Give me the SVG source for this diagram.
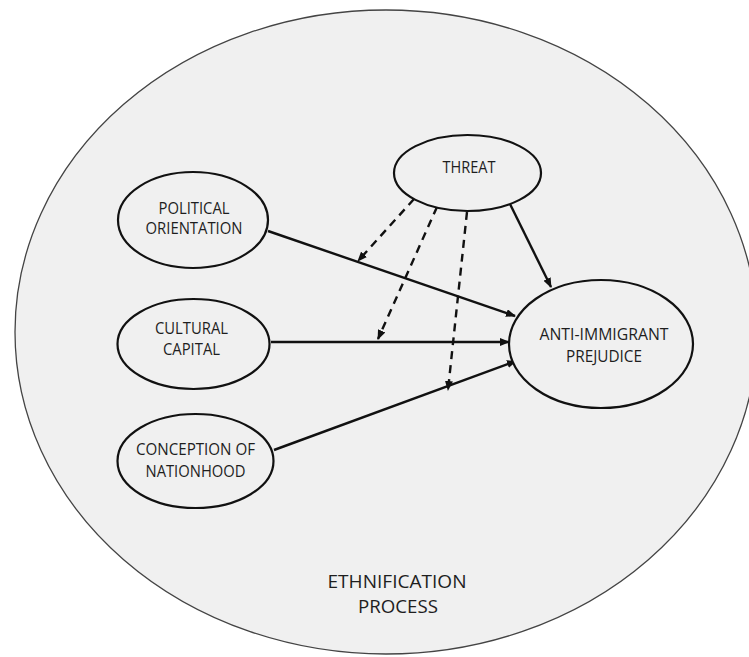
<svg xmlns="http://www.w3.org/2000/svg" width="749" height="657" viewBox="0 0 749 657">
<style>
.node ellipse{fill:#f0f0f0;stroke:#111;stroke-width:2.2}
.lbl{font-family:"Open Sans","Liberation Sans",sans-serif;font-size:16px;fill:#1e1e1e;text-anchor:middle}
.big{font-size:18.5px}
.edge{stroke:#111;stroke-width:2.4;fill:none;marker-end:url(#ah)}
.dash{stroke-dasharray:8,6}
</style>
<defs>
<marker id="ah" viewBox="0 0 10 8" refX="9" refY="4" markerWidth="10" markerHeight="8" markerUnits="userSpaceOnUse" orient="auto">
<path d="M0,0 L10,4 L0,8 z" fill="#111"/>
</marker>
</defs>
<rect width="749" height="657" fill="#ffffff"/>
<g id="ethnification">
<ellipse cx="386" cy="332" rx="371" ry="322" fill="#f0f0f0" stroke="#444" stroke-width="1.3"/>
<text class="lbl big" x="397" y="588" textLength="139" lengthAdjust="spacingAndGlyphs">ETHNIFICATION</text>
<text class="lbl big" x="398" y="613" textLength="80" lengthAdjust="spacingAndGlyphs">PROCESS</text>
</g>
<g id="connectors">
<line class="edge" x1="268" y1="231" x2="515" y2="316"/>
<line class="edge" x1="271" y1="342" x2="509" y2="342"/>
<line class="edge" x1="274" y1="450" x2="516" y2="361"/>
<line class="edge" x1="510" y1="204" x2="551" y2="287"/>
<line class="edge dash" x1="414" y1="199" x2="358" y2="261"/>
<line class="edge dash" x1="437" y1="207" x2="378" y2="339"/>
<line class="edge dash" x1="467" y1="212" x2="448" y2="390"/>
</g>
<g id="threat" class="node">
<ellipse cx="467.5" cy="173" rx="73.5" ry="38"/>
<text class="lbl" x="469" y="173" textLength="53" lengthAdjust="spacingAndGlyphs">THREAT</text>
</g>
<g id="political" class="node">
<ellipse cx="193" cy="220" rx="75" ry="48"/>
<text class="lbl" x="194" y="214" textLength="71" lengthAdjust="spacingAndGlyphs">POLITICAL</text>
<text class="lbl" x="194" y="234" textLength="97" lengthAdjust="spacingAndGlyphs">ORIENTATION</text>
</g>
<g id="cultural" class="node">
<ellipse cx="193.5" cy="344" rx="76" ry="45"/>
<text class="lbl" x="191.5" y="334" textLength="73" lengthAdjust="spacingAndGlyphs">CULTURAL</text>
<text class="lbl" x="191.5" y="355" textLength="57" lengthAdjust="spacingAndGlyphs">CAPITAL</text>
</g>
<g id="conception" class="node">
<ellipse cx="195.5" cy="461" rx="78" ry="47"/>
<text class="lbl" x="195.5" y="455" textLength="119" lengthAdjust="spacingAndGlyphs">CONCEPTION OF</text>
<text class="lbl" x="195.5" y="477" textLength="100" lengthAdjust="spacingAndGlyphs">NATIONHOOD</text>
</g>
<g id="prejudice" class="node">
<ellipse cx="601" cy="344" rx="92" ry="64"/>
<text class="lbl" x="604" y="340" textLength="129" lengthAdjust="spacingAndGlyphs">ANTI-IMMIGRANT</text>
<text class="lbl" x="604" y="362" textLength="76" lengthAdjust="spacingAndGlyphs">PREJUDICE</text>
</g>
</svg>
